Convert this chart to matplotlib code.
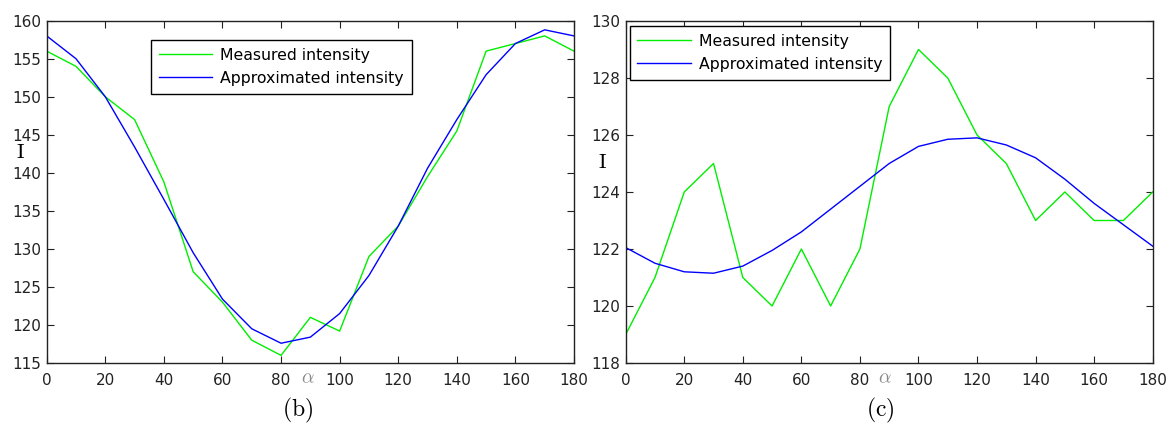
import numpy as np
import matplotlib
matplotlib.use("Agg")
import matplotlib.pyplot as plt

plt.rcParams['font.family'] = ['DejaVu Sans']
plt.rcParams['mathtext.fontset'] = 'cm'

# angle alpha in degrees
alpha = np.arange(0, 181, 10)

# panel (b)
measured_b = [156, 154, 150, 147, 138.8, 127, 123, 118, 116, 121, 119.2, 129,
              133, 139.5, 145.5, 156, 157, 158, 156]
approx_b = [158, 155, 150, 143.4, 136.5, 129.5, 123.4, 119.5, 117.6, 118.4,
            121.5, 126.5, 133, 140.6, 147, 152.9, 157, 158.8, 158]

# panel (c)
measured_c = [119, 121, 124, 125, 121, 120, 122, 120, 122, 127, 129, 128,
              126, 125, 123, 124, 123, 123, 124]
approx_c = [122.05, 121.5, 121.2, 121.15, 121.4, 121.95, 122.6, 123.4, 124.2,
            125.0, 125.6, 125.85, 125.9, 125.65, 125.2, 124.45, 123.6, 122.85, 122.1]

labels = ['Measured intensity', 'Approximated intensity']

fig = plt.figure(figsize=(11.67, 4.25), dpi=100)
W, H = 1167, 425

panels = [
    dict(rect=[46.7, 20.7, 574, 363], meas=measured_b, appr=approx_b,
         ylim=(115, 160), yticks=np.arange(115, 161, 5), leg=(151, 40),
         name='b', name_x=298, alpha_x=308, I_pos=(20, 152)),
    dict(rect=[625.7, 21, 1152.7, 363], meas=measured_c, appr=approx_c,
         ylim=(118, 130), yticks=np.arange(118, 131, 2), leg=(629.5, 26),
         name='c', name_x=880, alpha_x=885, I_pos=(602, 162)),
]

for p in panels:
    x0, y0, x1, y1 = p['rect']
    ax = fig.add_axes([x0 / W, 1 - y1 / H, (x1 - x0) / W, (y1 - y0) / H])
    ax.plot(alpha, p['meas'], color='#00ee00', lw=1.0, label=labels[0])
    ax.plot(alpha, p['appr'], color='#0000ff', lw=1.0, label=labels[1])
    ax.set_xlim(0, 180)
    ax.set_ylim(*p['ylim'])
    ax.set_xticks(np.arange(0, 181, 20))
    ax.set_yticks(p['yticks'])
    ax.tick_params(direction='in', length=5, width=0.8, labelsize=11,
                   top=True, right=True, colors='#222222')
    ax.tick_params(axis='x', pad=7)
    ax.tick_params(axis='y', pad=4)
    for s in ax.spines.values():
        s.set_linewidth(1.0)
        s.set_color('#222222')

    lx, ly = p['leg']
    leg = ax.legend(loc='upper left', bbox_to_anchor=(lx / W, 1 - ly / H),
                    bbox_transform=fig.transFigure, borderaxespad=0,
                    fontsize=11.3, handlelength=3.4, handletextpad=0.5,
                    labelspacing=0.5, borderpad=0.5, fancybox=False,
                    framealpha=1, edgecolor='black')
    leg.get_frame().set_linewidth(1.0)

    fig.text(p['alpha_x'] / W, 1 - 378 / H, r'$\alpha$', color='#888888',
             fontsize=14, ha='center', va='center')
    ix, iy = p['I_pos']
    fig.text(ix / W, 1 - iy / H, r'$\mathrm{I}$', fontsize=15,
             ha='center', va='center')
    fig.text(p['name_x'] / W, 1 - 410 / H, r'$(\mathrm{' + p['name'] + r'})$',
             fontsize=17, ha='center', va='center')

fig.savefig('out.png', dpi=100)
